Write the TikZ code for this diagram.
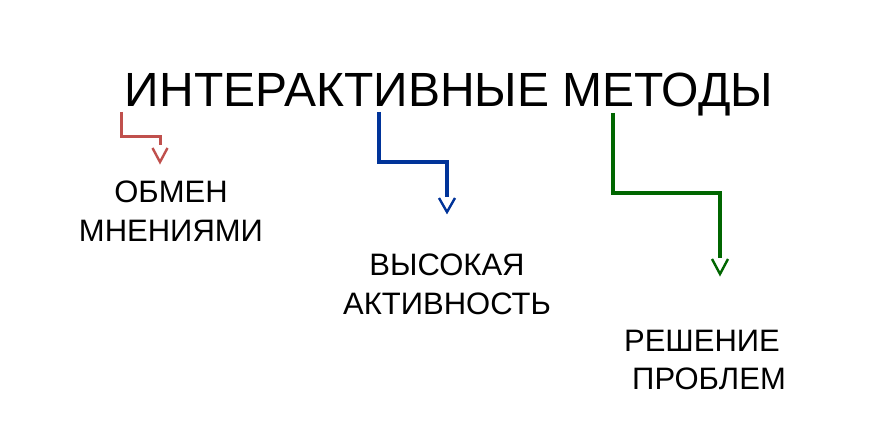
\documentclass[tikz,border=0pt]{standalone}
\usepackage{fontspec}
\setmainfont{Liberation Sans}
\definecolor{cred}{HTML}{C0504D}
\definecolor{cblue}{HTML}{003399}
\definecolor{cgreen}{HTML}{006600}
\begin{document}
\begin{tikzpicture}[x=1pt,y=1pt,
  conn/.style={line width=3.2pt,line join=miter},
  chev/.style={line width=2.4pt,line join=miter},
  lab/.style={align=center,inner sep=0pt,anchor=base,font=\fontsize{31}{39}\selectfont}]
\useasboundingbox[fill=white] (0,0) rectangle (870,-435);
\node[inner sep=0pt,anchor=base,font=\fontsize{48}{56}\selectfont] (title) at (449,-107) {ИНТЕРАКТИВНЫЕ МЕТОДЫ};
% red
\coordinate (r0) at (121,-112);
\coordinate (r1) at (160,-145);
\draw[conn,cred,line width=3pt] (r0) |- (160,-137) -- (r1);
\draw[chev,cred] ([xshift=-7.5pt,yshift=-3pt]r1) -- ([yshift=-17pt]r1) -- ([xshift=7.5pt,yshift=-3pt]r1);
\node[lab] (l1) at (171,-242) {ОБМЕН\\МНЕНИЯМИ};
% blue
\coordinate (b0) at (379,-112);
\coordinate (b1) at (447,-197);
\draw[conn,cblue] (b0) |- (447,-162) -- (b1);
\draw[chev,cblue] ([xshift=-8pt,yshift=-1pt]b1) -- ([yshift=-15pt]b1) -- ([xshift=8pt,yshift=-1pt]b1);
\node[lab] (l2) at (447,-315) {ВЫСОКАЯ\\АКТИВНОСТЬ};
% green
\coordinate (g0) at (613,-113);
\coordinate (g1) at (720,-258);
\draw[conn,cgreen,line width=3.6pt] (g0) |- (720,-193) -- (g1);
\draw[chev,cgreen] ([xshift=-8pt,yshift=-1pt]g1) -- ([yshift=-16pt]g1) -- ([xshift=8pt,yshift=-1pt]g1);
\node[lab] (l3) at (702,-390) {РЕШЕНИЕ\\\hspace*{14pt}ПРОБЛЕМ};
\end{tikzpicture}
\end{document}
